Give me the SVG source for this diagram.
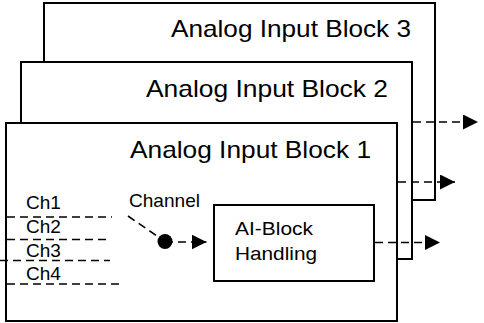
<svg xmlns="http://www.w3.org/2000/svg" width="484" height="323" viewBox="0 0 484 323">
<style>
.blk{fill:#fff;stroke:#000;stroke-width:2}
.t{font-family:"Liberation Sans",Arial,sans-serif;fill:#000}
.big{font-size:24px}
.sm{font-size:19px}
.d{stroke:#000;stroke-width:1.6;stroke-dasharray:8,5;fill:none}
</style>
<defs>
<marker id="ah" markerUnits="userSpaceOnUse" markerWidth="16" markerHeight="16" refX="15" refY="7.5" orient="auto">
<path d="M0,0 L15,7.5 L0,15 Z" fill="#000"/>
</marker>
</defs>
<rect width="484" height="323" fill="#fff"/>
<g id="block3">
<rect class="blk" x="44" y="3" width="391" height="197"/>
<text class="t big" x="411" y="37" text-anchor="end" textLength="240" lengthAdjust="spacingAndGlyphs">Analog Input Block 3</text>
</g>
<g id="block2">
<rect class="blk" x="21" y="62" width="391" height="197"/>
<text class="t big" x="388" y="97" text-anchor="end" textLength="242" lengthAdjust="spacingAndGlyphs">Analog Input Block 2</text>
</g>
<g id="block1">
<rect class="blk" x="6" y="123" width="391" height="198"/>
<text class="t big" x="371" y="158" text-anchor="end" textLength="241" lengthAdjust="spacingAndGlyphs">Analog Input Block 1</text>
</g>
<g id="ch-labels">
<text class="t sm" x="26" y="209">Ch1</text>
<text class="t sm" x="26" y="233">Ch2</text>
<text class="t sm" x="26" y="257">Ch3</text>
<text class="t sm" x="26" y="280">Ch4</text>
<text class="t sm" x="129" y="207" textLength="71" lengthAdjust="spacingAndGlyphs">Channel</text>
</g>
<g id="ai-block">
<rect class="blk" x="214" y="205" width="160" height="76"/>
<text class="t" x="235" y="235" font-size="19" textLength="78" lengthAdjust="spacingAndGlyphs">AI-Block</text>
<text class="t" x="235" y="260" font-size="19" textLength="82" lengthAdjust="spacingAndGlyphs">Handling</text>
</g>
<g id="switch">
<circle cx="165" cy="241.5" r="7.5" fill="#000"/>
</g>
<g id="connectors">
<line class="d" x1="7" y1="217" x2="112" y2="217"/>
<line class="d" x1="7" y1="239.5" x2="107" y2="239.5"/>
<line class="d" x1="0" y1="260.5" x2="110" y2="260.5"/>
<line class="d" x1="7" y1="284" x2="123" y2="284"/>
<line class="d" x1="128" y1="216" x2="165" y2="241.5"/>
<line class="d" x1="165" y1="242" x2="206.5" y2="242" marker-end="url(#ah)"/>
<line class="d" x1="375" y1="242.5" x2="440" y2="242.5" marker-end="url(#ah)"/>
<line class="d" x1="398" y1="182" x2="455" y2="182" marker-end="url(#ah)"/>
<line class="d" x1="413" y1="122" x2="478" y2="122" marker-end="url(#ah)"/>
</g>
</svg>
